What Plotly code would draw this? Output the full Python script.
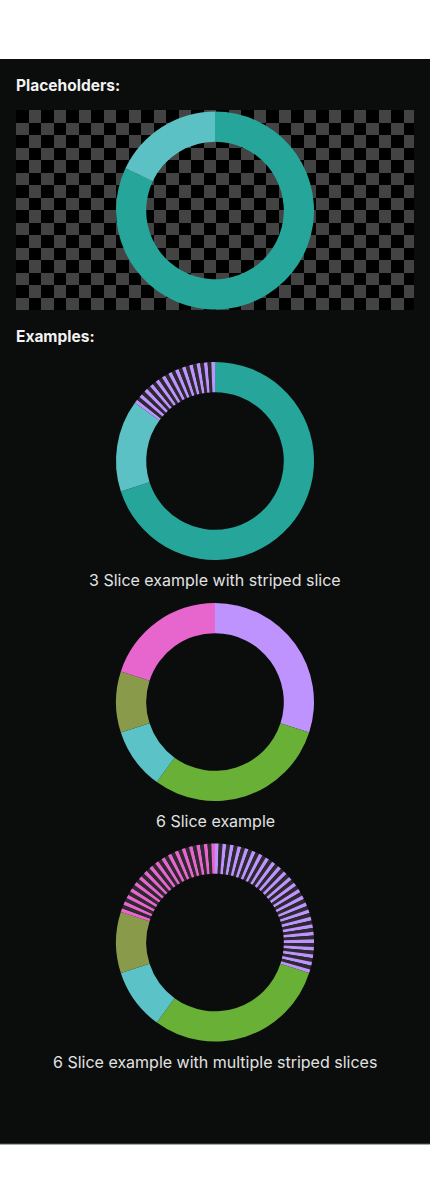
import plotly.graph_objects as go

W, H = 430, 1179

# ---- data ----
placeholder_labels = ["Main", "Secondary"]
placeholder_values = [82, 18]
placeholder_colors = ["#26A69A", "#5CC1C5"]

ex1_labels = ["Teal", "Light teal", "Purple"]
ex1_values = [70, 15, 15]
ex1_colors = ["#26A69A", "#5CC1C5", "#BE93FD"]
ex1_striped = [False, False, True]

ex2_labels = ["Purple", "Green", "Cyan", "Olive", "Pink"]
ex2_values = [30, 30, 10, 10, 20]
ex2_colors = ["#BE93FD", "#69B136", "#5BC2C8", "#8A9A4B", "#E766CE"]
ex2_striped = [False, False, False, False, False]

ex3_labels = ["Purple", "Green", "Cyan", "Olive", "Pink"]
ex3_values = [30, 30, 10, 10, 20]
ex3_colors = ["#BE93FD", "#69B136", "#5BC2C8", "#8A9A4B", "#E766CE"]
ex3_striped = [True, False, False, False, True]

captions = ["3 Slice example with striped slice",
            "6 Slice example",
            "6 Slice example with multiple striped slices"]

GAP = "#2C2A2F"
BG = "#0B0D0C"
STRIPE_DEG = 4.3


def expand(values, colors, striped):
    """Split striped slices into alternating colour / gap wedges."""
    total = float(sum(values))
    vals, cols = [], []
    for v, c, s in zip(values, colors, striped):
        if not s:
            vals.append(v)
            cols.append(c)
            continue
        deg = v / total * 360.0
        n = max(1, round(deg / STRIPE_DEG))
        parts = 2 * n - 1
        for i in range(parts):
            vals.append(v / parts)
            cols.append(c if i % 2 == 0 else GAP)
    return vals, cols


def dom(cx, cy, r=99):
    return dict(x=[(cx - r) / W, (cx + r) / W],
                y=[1 - (cy + r) / H, 1 - (cy - r) / H])


fig = go.Figure()

# checkerboard background of placeholder area
rows, cols_n = 16, 32
z = [[(r + c) % 2 for c in range(cols_n)] for r in range(rows)]
fig.add_trace(go.Heatmap(z=z, colorscale=[[0, "#000000"], [1, "#434343"]],
                         showscale=False, hoverinfo="skip", zmin=0, zmax=1,
                         xgap=0, ygap=0))

donuts = [
    (placeholder_values, placeholder_colors, [False, False], 215, 210.5),
    (ex1_values, ex1_colors, ex1_striped, 215, 461),
    (ex2_values, ex2_colors, ex2_striped, 215, 702),
    (ex3_values, ex3_colors, ex3_striped, 215, 942.5),
]
for vals, cols, strp, cx, cy in donuts:
    v, c = expand(vals, cols, strp)
    fig.add_trace(go.Pie(values=v, marker=dict(colors=c, line=dict(width=0)),
                         hole=0.695, sort=False, direction="clockwise",
                         rotation=0, textinfo="none", hoverinfo="skip",
                         showlegend=False, domain=dom(cx, cy)))

shapes = [
    dict(type="rect", xref="paper", yref="paper", x0=0, x1=1,
         y0=1 - 1144 / H, y1=1 - 59 / H, fillcolor=BG, line=dict(width=0),
         layer="below"),
    dict(type="line", xref="paper", yref="paper", x0=0, x1=1,
         y0=1 - 1144 / H, y1=1 - 1144 / H, line=dict(color="#555555", width=1)),
]

annotations = [
    dict(text="<b>Placeholders:</b>", x=14 / W, y=1 - 85 / H, xanchor="left",
         yanchor="middle", font=dict(size=15.5, color="#F2F2F2", family="Inter")),
    dict(text="<b>Examples:</b>", x=14 / W, y=1 - 336 / H, xanchor="left",
         yanchor="middle", font=dict(size=15.5, color="#F2F2F2", family="Inter")),
]
for txt, py in zip(captions, [580, 821, 1061.5]):
    annotations.append(dict(text=txt, x=0.5, y=1 - py / H, xanchor="center",
                            yanchor="middle",
                            font=dict(size=16, color="#E2E2E2", family="Inter")))
for a in annotations:
    a.update(xref="paper", yref="paper", showarrow=False)

fig.update_layout(
    width=W, height=H, margin=dict(l=0, r=0, t=0, b=0),
    paper_bgcolor="#FFFFFF", plot_bgcolor="rgba(0,0,0,0)",
    xaxis=dict(domain=[16 / W, 414 / W], range=[-0.5, 31.34], visible=False,
               fixedrange=True),
    yaxis=dict(domain=[1 - 310 / H, 1 - 110 / H], range=[15.5, -0.5],
               visible=False, fixedrange=True),
    shapes=shapes, annotations=annotations,
)

fig.write_html("out.html", config={"displayModeBar": False})
